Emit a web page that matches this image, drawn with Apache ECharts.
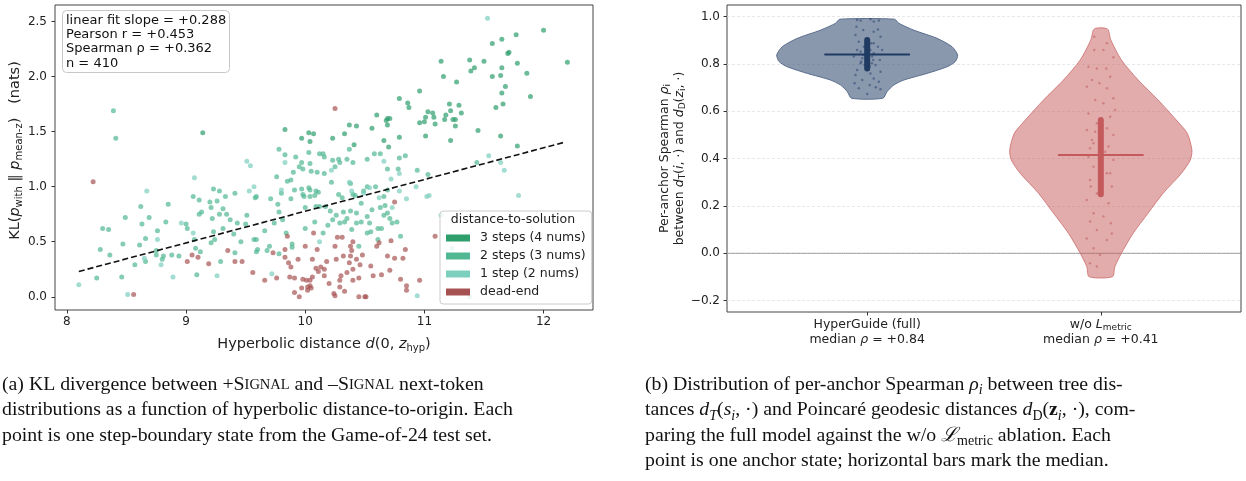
<!DOCTYPE html>
<html>
<head>
<meta charset="utf-8">
<title>KL vs hyperbolic distance / per-anchor Spearman</title>
<script src="https://cdn.jsdelivr.net/npm/echarts@6.0.0/dist/echarts.min.js"></script>
</head>
<body style="margin:0">
<div id="main" style="width:1246px;height:481px;"></div>
<script type="text/javascript">
// ---- panel (a): KL vs hyperbolic distance ----
var threeSteps = [[9.14,1.49],[9.83,1.52],[9.97,1.44],[10.03,1.49],[10.07,1.48],[10.04,1.41],
  [12.0,2.42],[12.20,2.13],[11.77,2.38],[11.65,2.34],[11.57,2.30],[11.71,2.22],[11.70,2.21],[11.78,2.12],
  [11.50,2.14],[11.38,2.15],[11.42,2.08],[11.39,2.05],[11.14,2.14],[11.16,2.00],[11.27,1.95],[11.65,2.08],
  [11.57,2.00],[11.64,2.01],[11.86,2.03],[11.68,1.91],[11.65,1.85],[11.89,1.82],[11.66,1.75],[11.60,1.72],
  [10.96,1.87],[10.79,1.80],[10.86,1.76],[10.87,1.72],[10.60,1.65],[10.37,1.56],[10.43,1.55],[10.56,1.53],
  [10.69,1.62],[10.71,1.62],[10.69,1.56],[10.68,1.60],[10.96,1.58],[11.00,1.59],[11.01,1.63],[11.03,1.68],
  [11.07,1.67],[11.08,1.63],[11.09,1.57],[11.17,1.61],[11.18,1.65],[11.22,1.69],[11.21,1.75],[11.29,1.74],
  [11.31,1.67],[11.24,1.61],[11.26,1.61],[11.26,1.55],[11.01,1.46],[11.22,1.42],[11.45,1.51],[11.64,1.46],
  [11.78,1.37],[10.79,1.45],[10.66,1.42],[10.70,1.36],[10.33,1.48],[10.23,1.44],[10.41,1.38]];

var twoSteps = [[8.39,1.69],[8.41,1.44],[9.78,1.34],[9.83,1.29],[9.92,1.27],[9.97,1.22],[10.03,1.31],[10.04,1.21],
  [9.98,1.16],[9.95,1.18],[10.12,1.30],[10.05,1.14],[9.90,1.13],[9.85,1.05],[9.88,1.06],[9.76,1.09],[9.91,0.97],
  [9.97,0.98],[10.03,0.99],[10.09,0.96],[9.99,0.91],[10.04,0.91],[9.41,0.94],[9.33,0.91],[9.23,0.98],[9.28,0.96],
  [9.59,0.91],[9.71,0.89],[9.06,0.91],
  [8.25,0.17],[8.28,0.43],[8.30,0.62],[8.35,0.61],[8.36,0.38],[8.46,0.18],[8.47,0.48],[8.49,0.72],[8.57,0.29],
  [8.61,0.47],[8.62,0.82],[8.63,0.66],[8.66,0.53],[8.66,0.32],[8.69,0.72],[8.75,0.38],[8.76,0.60],[8.75,0.42],
  [8.80,0.34],[8.81,0.37],[8.83,0.68],[8.85,0.84],[8.88,0.38],[8.94,0.37],[9.00,0.66],[9.01,0.62],[9.07,0.52],
  [9.08,0.44],[9.09,0.20],[9.11,0.88],[9.11,0.75],[9.12,0.41],[9.13,0.77],[9.20,0.86],[9.21,0.81],[9.21,0.49],
  [9.22,0.71],[9.23,0.59],[9.24,0.52],[9.26,0.87],[9.28,0.75],[9.29,0.32],[9.31,0.80],[9.31,0.62],[9.34,0.75],
  [9.37,0.70],[9.40,0.57],[9.41,0.40],[9.43,0.67],[9.46,0.50],[9.50,0.66],[9.51,0.74],[9.57,0.52],[9.59,0.41],
  [9.59,0.52],[9.58,0.90],[9.60,0.43],[9.66,0.60],[9.68,0.42],[9.70,0.46],[9.74,0.67],[9.77,0.84],[9.78,0.77],
  [9.78,0.39],[9.80,0.94],[9.81,0.70],[9.84,0.58],[9.89,0.48],[9.89,0.45],[10.08,0.68],[9.88,0.89],[9.98,0.93],
  [10.00,0.81],[10.09,0.82],
  [11.44,1.22],[11.03,1.11],[10.94,1.15],[10.84,1.28],[10.79,1.26],[10.58,1.30],[10.63,1.30],[10.52,1.25],
  [10.69,1.16],[10.78,1.16],[10.37,1.34],[10.15,1.30],[10.16,1.27],[10.23,1.24],[10.25,1.18],[10.28,1.25],
  [10.29,1.22],[10.35,1.25],[10.40,1.22],[10.16,1.12],[10.10,1.13],[10.22,1.04],[10.42,0.92],[10.69,0.97],
  [10.04,0.97],[10.11,0.95],
  [10.66,0.74],[10.61,0.62],[10.64,0.62],[10.71,0.71],[10.73,0.67],[10.77,0.68],[10.80,0.55],[10.69,0.76],
  [10.23,0.70],[10.21,0.78],[10.26,0.74],[10.29,0.67],[10.33,0.68],[10.32,0.77],[10.38,0.78],[10.39,0.61],
  [10.35,0.71],[10.43,0.76],[10.43,0.67],[10.45,0.46],[10.47,0.85],[10.47,0.68],[10.52,0.73],[10.54,0.67],
  [10.55,0.59],[10.52,0.58],[10.56,0.79],[10.63,0.81],[10.67,0.83],[10.15,0.58],[10.00,0.62],[10.12,0.82],
  [10.17,0.82],[10.19,0.65],[10.31,0.90],[10.28,0.93],[10.40,0.93],[10.38,1.03],[10.49,0.96],[10.52,1.00],
  [10.59,1.00],[10.08,0.92],[10.61,0.52],[10.66,0.91]];

var oneStep = [[8.67,0.96],[9.07,1.08],[9.51,1.23],[9.54,1.19],[9.83,1.22],[9.80,0.97],[9.57,1.00],[9.53,0.96],
  [8.10,0.11],[8.51,0.02],[8.76,0.52],[8.89,0.18],[8.96,0.67],[9.06,0.58],[9.26,0.19],[9.72,0.21],[11.53,2.53],
  [11.54,1.28],[11.64,1.22],[11.67,1.15],[11.79,0.92],[10.93,1.00],[11.02,0.91],[10.66,1.23],[10.79,1.12],
  [10.72,1.07],[10.22,1.15],[10.37,1.04],[10.39,0.96],[10.49,0.94],[10.54,0.99],[10.62,0.90],[10.79,0.96],
  [10.85,0.89],[11.14,0.74],[11.23,0.44],[11.38,0.00],[10.94,0.01],[10.73,0.81],[10.12,0.50],[8.65,0.35],
  [8.79,0.29],[11.04,0.92]];

var deadEnd = [[8.22,1.045],[8.56,0.02],[9.01,0.32],[9.05,0.38],[9.10,0.36],[9.19,0.30],[9.35,0.42],[9.41,0.32],
  [9.47,0.32],[9.56,0.22],[9.66,0.15],[9.73,0.40],[9.76,0.17],[9.83,0.43],[9.83,0.36],[9.85,0.55],[9.86,0.31],
  [9.87,0.18],[9.88,0.27],[9.91,0.17],[9.91,0.04],[9.94,0.34],[9.95,0.00],[9.97,0.08],[9.98,0.16],[10.00,0.46],
  [10.01,0.15],[10.02,0.09],[10.04,0.15],[10.05,0.08],[10.06,0.18],[10.06,0.34],[10.07,0.58],[10.09,0.26],
  [10.10,0.43],[10.11,0.23],[10.25,1.71],[11.09,0.55],[10.96,0.15],[10.85,0.10],[10.85,0.06],[10.80,0.16],
  [10.84,0.43],[10.82,0.35],[10.75,0.86],[10.72,0.51],[10.71,0.24],[10.69,0.37],[10.75,0.35],[10.62,0.49],
  [10.60,0.46],[10.64,0.20],[10.57,0.19],[10.51,0.00],[10.50,0.00],[10.45,0.00],[10.45,0.17],[10.46,0.29],
  [10.40,0.15],[10.40,0.25],[10.37,0.31],[10.32,0.37],[10.29,0.15],[10.29,0.09],[10.30,0.19],[10.26,0.34],
  [10.25,0.46],[10.27,0.54],[10.24,0.03],[10.25,0.01],[10.39,0.42],[10.38,0.37],[10.38,0.46],[10.40,0.50],
  [10.43,0.34],[10.16,0.19],[10.18,0.32],[10.16,0.25],[10.13,0.27],[10.04,0.10],[10.02,0.06],[10.31,0.54],
  [10.20,0.12],[10.35,0.22],[10.55,0.28],[10.48,0.38],[10.33,0.05]];

var fitLine = [[8.10, 0.23], [12.18, 1.405]];
var statsLines = ['linear fit slope = +0.288', 'Pearson r = +0.453', 'Spearman \u03c1 = +0.362', 'n = 410'];
var xTicksA = [8, 9, 10, 11, 12];
var yTicksA = [0, 0.5, 1.0, 1.5, 2.0, 2.5];

// ---- panel (b): violins ----
var groupNames = ['HyperGuide (full)', 'w/o L_metric'];
var groupMedians = [0.84, 0.41];
var fullLevels = [0.655, 0.683, 0.711, 0.732, 0.760, 0.788, 0.810, 0.838, 0.873, 0.908, 0.943, 0.972, 0.989];
var fullWidths = [0.067, 0.085, 0.114, 0.157, 0.256, 0.342, 0.377, 0.387, 0.363, 0.299, 0.199, 0.135, 0.117];
var ablLevels = [-0.099, -0.057, 0.000, 0.084, 0.169, 0.253, 0.338, 0.394, 0.436, 0.507, 0.563, 0.648, 0.732, 0.817, 0.901, 0.948];
var ablWidths = [0.050, 0.060, 0.088, 0.138, 0.202, 0.266, 0.345, 0.383, 0.390, 0.370, 0.323, 0.245, 0.160, 0.088, 0.043, 0.028];
var fullIqr = [0.781, 0.901];
var ablIqr = [0.249, 0.563];
var fullJitter = [[-0.043,0.986],[-0.028,0.983],[0.014,0.989],[0.028,0.979],[0.050,0.983],[-0.046,0.957],
  [-0.017,0.943],[0.028,0.936],[0.046,0.946],[-0.050,0.922],[0.057,0.915],[-0.036,0.894],[0.028,0.887],
  [0.046,0.873],[-0.043,0.859],[0.064,0.859],[-0.057,0.831],[0.054,0.817],[-0.028,0.803],[0.036,0.796],
  [-0.043,0.774],[0.057,0.767],[0.014,0.760],[-0.050,0.753],[0.028,0.739],[-0.021,0.732],[0.050,0.725],
  [-0.054,0.718],[0.011,0.711],[0.037,0.701],[-0.036,0.697],[0.057,0.693],[0.0,0.673],
  [-0.014,0.873],[0.014,0.859],[-0.007,0.845],[0.021,0.831],[-0.021,0.824],[0.007,0.810],[-0.011,0.796],
  [0.017,0.887],[-0.028,0.852],[0.026,0.817],[-0.003,0.901],[0.011,0.789],[-0.017,0.838],[0.028,0.845],
  [0.003,0.866],[-0.026,0.810],[0.020,0.803],[-0.006,0.824]];
var ablJitter = [[-0.028,0.859],[0.011,0.859],[0.054,0.828],[-0.053,0.788],[-0.017,0.781],[0.023,0.781],
  [0.040,0.746],[-0.038,0.732],[-0.006,0.718],[0.026,0.697],[0.054,0.655],[-0.024,0.648],[0.011,0.634],
  [-0.053,0.591],[0.040,0.577],[-0.017,0.549],[-0.060,0.521],[0.054,0.500],[-0.038,0.479],[0.033,0.451],
  [-0.053,0.408],[0.054,0.394],[-0.031,0.366],[0.026,0.338],[-0.046,0.310],[0.047,0.282],[-0.017,0.253],
  [-0.060,0.225],[0.033,0.211],[-0.031,0.169],[0.011,0.155],[-0.046,0.134],[0.043,0.127],[-0.017,0.098],
  [-0.060,0.063],[0.026,0.056],[-0.031,0.021],[-0.003,-0.007],[-0.046,-0.042],[-0.017,-0.056],[-0.028,0.915],
  [0.026,0.887],[-0.060,0.704],[0.061,0.605],[-0.043,0.282],[0.047,0.084],[-0.031,0.465],[0.019,0.429],
  [-0.024,0.514],[0.026,0.528],[-0.046,0.444],[0.040,0.338]];
var yTicksB = [-0.2, 0, 0.2, 0.4, 0.6, 0.8, 1.0];

var dom = document.getElementById('main');
var myChart = echarts.init(dom, null, {renderer: 'canvas'});
var sans = 'DejaVu Sans';
var serif = 'Liberation Serif';
var ink = '#222';

var richName = {
    g: {width: 14},
    n: {fontFamily: sans, fontSize: 14.5, color: ink, lineHeight: 18},
    i: {fontFamily: sans, fontSize: 14.5, fontStyle: 'italic', color: ink, lineHeight: 18},
    s: {fontFamily: sans, fontSize: 10, color: ink, lineHeight: 10, verticalAlign: 'bottom'}
};
var richLab = {
    n: {fontFamily: sans, fontSize: 12.5, color: ink, lineHeight: 15},
    i: {fontFamily: sans, fontSize: 12.5, fontStyle: 'italic', color: ink, lineHeight: 15},
    s: {fontFamily: sans, fontSize: 9, color: ink, lineHeight: 9, verticalAlign: 'bottom'}
};
var richCap = {
    n: {fontFamily: serif, fontSize: 19.8, color: '#111', lineHeight: 25.5},
    c: {fontFamily: serif, fontSize: 14.5, color: '#111', lineHeight: 25.5},
    i: {fontFamily: serif, fontSize: 19.8, fontStyle: 'italic', color: '#111', lineHeight: 25.5},
    b: {fontFamily: serif, fontSize: 19.8, fontWeight: 'bold', color: '#111', lineHeight: 25.5},
    s: {fontFamily: serif, fontSize: 14, fontStyle: 'italic', color: '#111', lineHeight: 15, verticalAlign: 'bottom'},
    m: {fontFamily: serif, fontSize: 14, color: '#111', lineHeight: 15, verticalAlign: 'bottom'}
};

function scatterA(name, data, color) {
    return {name: name, type: 'scatter', xAxisIndex: 0, yAxisIndex: 0, data: data,
        symbolSize: 5, itemStyle: {color: color, opacity: 0.7}, z: 2};
}

function violin(pos, levels, widths, fill, stroke) {
    return {type: 'custom', xAxisIndex: 1, yAxisIndex: 1, silent: true, z: 2,
        data: [[pos, levels[0]]],
        renderItem: function (params, api) {
            var right = levels.map(function (y, i) { return api.coord([pos + widths[i], y]); });
            var left = levels.map(function (y, i) { return api.coord([pos - widths[i], y]); }).reverse();
            return {type: 'polygon', shape: {points: right.concat(left), smooth: 0.25},
                style: {fill: fill, stroke: stroke, lineWidth: 1}};
        }};
}

function jitter(pos, pts, color) {
    return {type: 'scatter', xAxisIndex: 1, yAxisIndex: 1, silent: true, z: 3,
        data: pts.map(function (p) { return [pos + p[0], p[1]]; }),
        symbolSize: 2.5, itemStyle: {color: color, opacity: 0.55}};
}

function seg(data, color, width, z, type) {
    return {type: 'line', xAxisIndex: 1, yAxisIndex: 1, data: data, symbol: 'none', silent: true, z: z,
        lineStyle: {color: color, width: width, cap: 'round', type: type || 'solid'}};
}

var tickStyle = {length: 3.5, lineStyle: {color: '#333'}};

option = {
    animation: false,
    backgroundColor: '#fff',
    title: {
        left: 62, top: 10,
        text: statsLines.join('\n'),
        textStyle: {fontFamily: sans, fontSize: 13, fontWeight: 'normal', color: '#111', lineHeight: 14.4},
        padding: [3, 4, 2, 4],
        backgroundColor: 'rgba(255,255,255,0.85)',
        borderColor: '#c8c8c8', borderWidth: 1, borderRadius: 4
    },
    legend: {
        data: ['3 steps (4 nums)', '2 steps (3 nums)', '1 step (2 nums)', 'dead-end'],
        orient: 'vertical', left: 440, top: 211,
        padding: [20, 6, 5, 6], itemWidth: 24, itemHeight: 7, itemGap: 4, icon: 'rect',
        selectedMode: false,
        itemStyle: {opacity: 1},
        textStyle: {fontFamily: sans, fontSize: 12.5, color: ink, lineHeight: 14, padding: [0, 0, 0, 5]},
        backgroundColor: 'rgba(255,255,255,0.8)', borderColor: '#ccc', borderWidth: 1, borderRadius: 3
    },
    grid: [
        {left: 55, top: 5, width: 538, height: 305, show: true, borderColor: '#444', borderWidth: 1, backgroundColor: 'transparent'},
        {left: 727, top: 5, width: 514, height: 307, show: true, borderColor: '#444', borderWidth: 1, backgroundColor: 'transparent'}
    ],
    xAxis: [
        {type: 'value', gridIndex: 0, min: 7.9, max: 12.415,
            name: '{n|Hyperbolic distance }{i|d}{n|(0, }{i|z}{s|hyp}{n|)}',
            nameLocation: 'middle', nameGap: 25, nameTextStyle: {rich: richName},
            axisLine: {show: false, onZero: false}, splitLine: {show: false},
            axisTick: Object.assign({customValues: xTicksA}, tickStyle),
            axisLabel: {customValues: xTicksA, margin: 6, fontFamily: sans, fontSize: 12, color: ink}},
        {type: 'value', gridIndex: 1, min: -0.6, max: 1.6,
            axisLine: {show: false, onZero: false}, splitLine: {show: false},
            axisTick: Object.assign({customValues: [0, 1]}, tickStyle),
            axisLabel: {customValues: [0, 1], margin: 5, rich: richLab,
                formatter: function (v) {
                    var k = Math.round(v);
                    var med = '{n|median }{i|\u03c1}{n| = +' + groupMedians[k].toFixed(2) + '}';
                    if (k === 0) return '{n|' + groupNames[0] + '}\n' + med;
                    return '{n|w/o }{i|L}{s|metric}\n' + med;
                }}}
    ],
    yAxis: [
        {type: 'value', gridIndex: 0, min: -0.12, max: 2.65,
            name: '{g|}{n|KL(}{i|p}{s|with}{n| \u2016 }{i|p}{s|mean-z}{n|)   (nats)}',
            nameLocation: 'middle', nameGap: 30, nameRotate: 90, nameTextStyle: {rich: richName},
            axisLine: {show: false, onZero: false}, splitLine: {show: false},
            axisTick: Object.assign({customValues: yTicksA}, tickStyle),
            axisLabel: {customValues: yTicksA, margin: 8, fontFamily: sans, fontSize: 12, color: ink,
                formatter: function (v) { return v.toFixed(1); }}},
        {type: 'value', gridIndex: 1, min: -0.248, max: 1.049, splitNumber: 6,
            name: '{n|Per-anchor Spearman }{i|\u03c1}{s|i}\n{n|between }{i|d}{s|T}{n|(}{i|i}{n|, \u00b7) and }{i|d}{s|D}{n|(}{i|z}{s|i}{n|, \u00b7)}',
            nameLocation: 'middle', nameGap: 40, nameRotate: 90, nameTextStyle: {rich: richLab},
            axisLine: {show: false, onZero: false},
            splitLine: {show: true, lineStyle: {color: '#e2e2e2', type: [3, 2], width: 0.8}},
            axisTick: Object.assign({customValues: yTicksB}, tickStyle),
            axisLabel: {customValues: yTicksB, margin: 7, fontFamily: sans, fontSize: 12, color: ink,
                formatter: function (v) { return (v < -1e-9 ? '\u2212' : '') + Math.abs(v).toFixed(1); }}}
    ],
    graphic: [
        {type: 'text', x: 513, y: 220, z: 100,
            style: {text: 'distance-to-solution', font: '12.5px "DejaVu Sans"', fill: ink, align: 'center', verticalAlign: 'middle'}},
        {type: 'text', x: 2, y: 372, z: 100,
            style: {rich: richCap, fill: '#111', verticalAlign: 'top',
                text: '{n|(a) KL divergence between +S}{c|IGNAL}{n| and \u2013S}{c|IGNAL}{n| next-token}\n' +
                      '{n|distributions as a function of hyperbolic distance-to-origin. Each}\n' +
                      '{n|point is one step-boundary state from the Game-of-24 test set.}'}},
        {type: 'text', x: 645, y: 372, z: 100,
            style: {rich: richCap, fill: '#111', verticalAlign: 'top',
                text: '{n|(b) Distribution of per-anchor Spearman }{i|\u03c1}{s|i}{n| between tree dis-}\n' +
                      '{n|tances }{i|d}{s|T}{n|(}{i|s}{s|i}{n|, \u00b7) and Poincar\u00e9 geodesic distances }{i|d}{m|D}{n|(}{b|z}{s|i}{n|, \u00b7), com-}\n' +
                      '{n|paring the full model against the w/o }{i|\u2112}{m|metric}{n| ablation. Each}\n' +
                      '{n|point is one anchor state; horizontal bars mark the median.}'}}
    ],
    series: [
        scatterA('3 steps (4 nums)', threeSteps, '#2e9e6c'),
        scatterA('2 steps (3 nums)', twoSteps, '#50b892'),
        scatterA('1 step (2 nums)', oneStep, '#7ccfbd'),
        scatterA('dead-end', deadEnd, '#a65252'),
        {type: 'line', xAxisIndex: 0, yAxisIndex: 0, data: fitLine, symbol: 'none', silent: true, z: 4,
            lineStyle: {color: '#111', width: 1.6, type: [6, 3]}},
        seg([[-0.6, 0], [1.6, 0]], '#8a8a8a', 0.9, 1, 'dotted'),
        violin(0, fullLevels, fullWidths, 'rgba(60,84,120,0.6)', '#5b6f8e'),
        violin(1, ablLevels, ablWidths, 'rgba(200,90,90,0.5)', 'rgba(200,100,100,0.75)'),
        jitter(0, fullJitter, '#2a456d'),
        jitter(1, ablJitter, '#bf5c5e'),
        seg([[0, fullIqr[0]], [0, fullIqr[1]]], '#1f3b62', 6, 5),
        seg([[-0.18, groupMedians[0]], [0.18, groupMedians[0]]], '#1f3b62', 2, 5),
        seg([[1, ablIqr[0]], [1, ablIqr[1]]], '#c55a5c', 6, 5),
        seg([[0.82, 0.415], [1.18, 0.415]], '#c55a5c', 2, 5)
    ]
};

if (option && typeof option === 'object') {
    myChart.setOption(option, true);
}
</script>
</body>
</html>
